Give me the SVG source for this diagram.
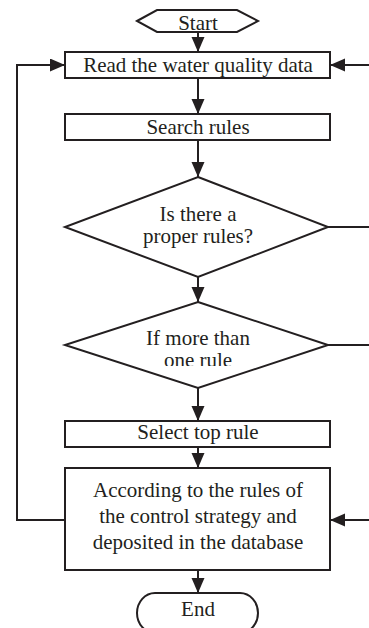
<svg xmlns="http://www.w3.org/2000/svg" width="369" height="628" viewBox="0 0 369 628">
<style>
.s{fill:#fff;stroke:#231f20;stroke-width:2}
.t{font-family:"Liberation Serif","Times New Roman",serif;font-size:21px;fill:#231f20;text-anchor:middle}
.c{fill:none;stroke:#231f20;stroke-width:2}
</style>
<defs>
<marker id="ah" markerUnits="userSpaceOnUse" markerWidth="16" markerHeight="14" refX="15" refY="6.5" orient="auto">
<path d="M0,0 L15,6.5 L0,13 z" fill="#231f20"/>
</marker>
<clipPath id="cl"><rect x="0" y="0" width="369" height="366"/></clipPath>
</defs>
<g id="start">
<polygon class="s" points="137,21 157,10 237,10 258,21 237,32 157,32"/>
<text class="t" x="198" y="30">Start</text>
</g>
<g id="read">
<rect class="s" x="65" y="52" width="265" height="26"/>
<text class="t" x="198" y="72">Read the water quality data</text>
</g>
<g id="search">
<rect class="s" x="65" y="114" width="265" height="26"/>
<text class="t" x="198" y="134">Search rules</text>
</g>
<g id="d1">
<polygon class="s" points="198,177 328,227 198,277 65,227"/>
<text class="t" x="198" y="221">Is there a</text>
<text class="t" x="198" y="243">proper rules?</text>
</g>
<g id="d2">
<polygon class="s" points="198,302 328,345 198,388 65,345"/>
<text class="t" x="198" y="345">If more than</text>
<text class="t" x="198" y="367" clip-path="url(#cl)">one rule</text>
</g>
<g id="select">
<rect class="s" x="65" y="421" width="265" height="26"/>
<text class="t" x="198" y="439">Select top rule</text>
</g>
<g id="store">
<rect class="s" x="65" y="468" width="265" height="102"/>
<text class="t" x="198" y="497">According to the rules of</text>
<text class="t" x="198" y="523">the control strategy and</text>
<text class="t" x="198" y="549">deposited in the database</text>
</g>
<g id="end">
<rect class="s" x="137" y="593" width="121" height="40" rx="18" ry="20"/>
<text class="t" x="198" y="616">End</text>
</g>
<g id="connectors">
<line class="c" x1="198" y1="31" x2="198" y2="52" marker-end="url(#ah)"/>
<line class="c" x1="198" y1="78" x2="198" y2="114" marker-end="url(#ah)"/>
<line class="c" x1="198" y1="140" x2="198" y2="177" marker-end="url(#ah)"/>
<line class="c" x1="198" y1="277" x2="198" y2="302" marker-end="url(#ah)"/>
<line class="c" x1="198" y1="388" x2="198" y2="421" marker-end="url(#ah)"/>
<line class="c" x1="198" y1="447" x2="198" y2="468" marker-end="url(#ah)"/>
<line class="c" x1="198" y1="570" x2="198" y2="593" marker-end="url(#ah)"/>
<polyline class="c" points="65,520 17,520 17,65 65,65" marker-end="url(#ah)"/>
<line class="c" x1="369" y1="65" x2="330" y2="65" marker-end="url(#ah)"/>
<line class="c" x1="328" y1="227" x2="369" y2="227"/>
<line class="c" x1="328" y1="345" x2="369" y2="345"/>
<line class="c" x1="369" y1="520" x2="330" y2="520" marker-end="url(#ah)"/>
</g>
</svg>
